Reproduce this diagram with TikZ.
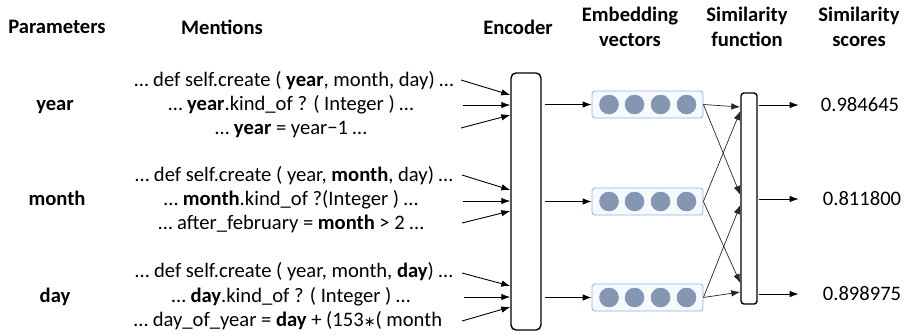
\documentclass[tikz,border=0pt]{standalone}
\usepackage{fontspec}
\setmainfont{Carlito}
\newfontfamily\symfont{DejaVu Sans}
\usetikzlibrary{arrows.meta}
\definecolor{embfill}{RGB}{247,249,253}
\definecolor{embdraw}{RGB}{141,180,226}
\definecolor{dotfill}{RGB}{132,150,176}
\definecolor{dotdraw}{RGB}{118,150,205}
\begin{document}
\begin{tikzpicture}[x=1pt,y=-1pt,
  txt/.style={font=\fontsize{20.6}{24}\selectfont, inner sep=0pt, text height=13pt, text depth=0pt},
  par/.style={txt, font=\bfseries\fontsize{20.6}{24}\selectfont},
  hdr/.style={font=\bfseries\fontsize{20.6}{25}\selectfont, inner sep=0pt, align=center},
  arr/.style={-{Latex[length=9pt,width=6.5pt]}, line width=0.9pt},
  arrx/.style={-{Latex[length=9pt,width=6.5pt]}, line width=0.7pt, black!85},
  encbox/.style={draw, line width=1.4pt, rounded corners=5pt, inner sep=0pt},
  simbox/.style={draw, line width=1.4pt, rounded corners=3pt, inner sep=0pt, minimum width=16pt, minimum height=211pt},
  embbox/.style={draw=embdraw, fill=embfill, line width=0.8pt, rounded corners=3pt, inner sep=0pt, minimum width=111pt, minimum height=27pt},
  dot/.style={circle, draw=dotdraw, fill=dotfill, line width=0.5pt, inner sep=0pt, minimum size=19pt}
]
\path[use as bounding box] (0,0) rectangle (904,335);

% headers
\node[hdr] (hpar) at (57,27) {Parameters};
\node[hdr] (hmen) at (222,27) {Mentions};
\node[hdr] (henc) at (518,27) {Encoder};
\node[hdr] (hemb) at (630,27) {Embedding\\vectors};
\node[hdr] (hsim) at (747,27) {Similarity\\function};
\node[hdr] (hsco) at (859,27) {Similarity\\scores};

% parameters
\node[par] (pyear) at (55,104) {year};
\node[par] (pmonth) at (57,199) {month};
\node[par] (pday) at (55,296) {day};

% mentions
\node[txt] (m11) at (294,80) {… def self.create ( \textbf{year}, month, day) …};
\node[txt] (m12) at (291,104) {… \textbf{year}.kind\_of ? ( Integer ) …};
\node[txt] (m13) at (291,128) {… \textbf{year} = year−1 …};
\node[txt] (m21) at (294,175) {… def self.create ( year, \textbf{month}, day) …};
\node[txt] (m22) at (291,199) {… \textbf{month}.kind\_of ?(Integer ) …};
\node[txt] (m23) at (291,223) {… after\_february = \textbf{month} > 2 …};
\node[txt] (m31) at (294,271) {… def self.create ( year, month, \textbf{day}) …};
\node[txt] (m32) at (291,296) {… \textbf{day}.kind\_of ? ( Integer ) …};
\node[txt] (m33) at (288,320) {… day\_of\_year = \textbf{day} + (153{\symfont\fontsize{14}{14}\selectfont ∗}( month};

% encoder
\node[encbox, minimum width=30pt, minimum height=257pt] (enc) at (526,201.5) {};

% embeddings
\node[embbox] (e1) at (647.5,104.5) {};
\node[embbox] (e2) at (647.5,201.5) {};
\node[embbox] (e3) at (647.5,297.5) {};
\foreach \n in {e1,e2,e3}{
  \foreach \k/\dx in {1/-38.5,2/-13,3/13,4/39}{
    \node[dot] (\n c\k) at ([xshift=\dx pt]\n.center) {};
  }
}

% similarity function
\node[simbox] (sim) at (749,198.5) {};

% scores
\node[txt] (sc1) at (860,105) {0.984645};
\node[txt] (sc2) at (862,199) {0.811800};
\node[txt] (sc3) at (862,294) {0.898975};

% mention -> encoder
\coordinate (s1a) at (461,80);
\coordinate (s1b) at (463,105);
\coordinate (s1c) at (461,128);
\coordinate (s2a) at (462,175);
\coordinate (s2b) at (463,201);
\coordinate (s2c) at (462,223);
\coordinate (s3a) at (462,273);
\coordinate (s3b) at (464,297);
\coordinate (s3c) at (462,321);
\draw[arr] (s1a) -- (enc.west |- 0,95);
\draw[arr] (s1b) -- (enc.west |- 0,105);
\draw[arr] (s1c) -- (enc.west |- 0,115);
\draw[arr] (s2a) -- (enc.west |- 0,190);
\draw[arr] (s2b) -- (enc.west |- 0,201);
\draw[arr] (s2c) -- (enc.west |- 0,211);
\draw[arr] (s3a) -- (enc.west |- 0,286);
\draw[arr] (s3b) -- (enc.west |- 0,297);
\draw[arr] (s3c) -- (enc.west |- 0,307);

% encoder -> embeddings
\draw[arr, shorten <=3pt] (enc.east |- e1.west) -- (e1.west);
\draw[arr, shorten <=3pt] (enc.east |- e2.west) -- (e2.west);
\draw[arr, shorten <=3pt] (enc.east |- e3.west) -- (e3.west);

% embeddings -> similarity function
\draw[arrx] (e1.east) -- (sim.west |- 0,107);
\draw[arrx] (e1.east) -- (sim.west |- 0,195);
\draw[arrx] (e2.east) -- (sim.west |- 0,111);
\draw[arrx] (e2.east) -- (sim.west |- 0,283);
\draw[arrx] (e3.east) -- (sim.west |- 0,205);
\draw[arrx] (e3.east) -- (sim.west |- 0,292);

% similarity function -> scores
\draw[arr, shorten <=1pt, shorten >=22pt] (sim.east |- sc1.west) -- (sc1.west);
\draw[arr, shorten <=1pt, shorten >=24pt] (sim.east |- sc2.west) -- (sc2.west);
\draw[arr, shorten <=1pt, shorten >=24pt] (sim.east |- sc3.west) -- (sc3.west);
\end{tikzpicture}
\end{document}
